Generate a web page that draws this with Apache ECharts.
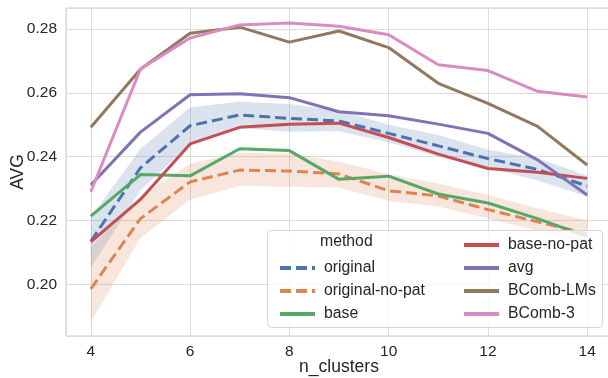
<!DOCTYPE html>
<html>
<head>
<meta charset="utf-8">
<script src="https://cdn.jsdelivr.net/npm/echarts@6/dist/echarts.min.js"></script>
<style>
  html, body { margin: 0; padding: 0; background: #fff; }
  #chart { width: 608px; height: 378px; }
</style>
</head>
<body>
<div id="chart"></div>
<script>
var nClusters = [4, 5, 6, 7, 8, 9, 10, 11, 12, 13, 14];

var original = [0.2135, 0.2365, 0.2497, 0.2531, 0.2520, 0.2512, 0.2473, 0.2434, 0.2394, 0.2360, 0.2308];
var originalLow = [0.2052, 0.2295, 0.2440, 0.2490, 0.2478, 0.2480, 0.2445, 0.2400, 0.2365, 0.2325, 0.2275];
var originalHigh = [0.2210, 0.2425, 0.2555, 0.2572, 0.2565, 0.2545, 0.2500, 0.2468, 0.2422, 0.2395, 0.2340];

var originalNoPat = [0.1986, 0.2206, 0.2321, 0.2358, 0.2355, 0.2346, 0.2293, 0.2277, 0.2234, 0.2196, 0.2158];
var originalNoPatLow = [0.1883, 0.2145, 0.2266, 0.2308, 0.2306, 0.2303, 0.2262, 0.2244, 0.2206, 0.2168, 0.2120];
var originalNoPatHigh = [0.2115, 0.2275, 0.2378, 0.2412, 0.2410, 0.2385, 0.2345, 0.2316, 0.2280, 0.2238, 0.2200];

var base = [0.2214, 0.2344, 0.2340, 0.2425, 0.2419, 0.2329, 0.2339, 0.2283, 0.2255, 0.2206, 0.2150];
var baseNoPat = [0.2133, 0.2266, 0.2440, 0.2492, 0.2502, 0.2505, 0.2460, 0.2408, 0.2363, 0.2351, 0.2332];
var avg = [0.2311, 0.2477, 0.2594, 0.2597, 0.2585, 0.2541, 0.2528, 0.2502, 0.2473, 0.2390, 0.2280];
var bcombLMs = [0.2492, 0.2674, 0.2787, 0.2806, 0.2759, 0.2794, 0.2742, 0.2630, 0.2567, 0.2495, 0.2374];
var bcomb3 = [0.2290, 0.2675, 0.2772, 0.2813, 0.2819, 0.2809, 0.2782, 0.2688, 0.2670, 0.2605, 0.2587];

var colors = {
  original: '#4c72b0', originalNoPat: '#dd8452', base: '#55a868', baseNoPat: '#c44e52',
  avg: '#8172b3', bcombLMs: '#937860', bcomb3: '#da8bc3'
};
var FONT = 'Liberation Sans, Arial, sans-serif';
var TXT = '#262626';

function pairs(ys) {
  return nClusters.map(function (x, i) { return [x, ys[i]]; });
}

function lineSeries(name, ys, color, dashed) {
  return {
    name: name, type: 'line', data: pairs(ys), symbol: 'none', z: 5,
    color: color,
    lineStyle: { color: color, width: 3, type: dashed ? [11, 5] : 'solid' }
  };
}

// confidence band: one polygon, upper edge left->right then lower edge right->left
function bandSeries(low, high, color) {
  return {
    type: 'custom', silent: true, z: 1,
    data: [[nClusters[0], low[0], high[0]]],
    renderItem: function (params, api) {
      var pts = [];
      nClusters.forEach(function (x, i) { pts.push(api.coord([x, high[i]])); });
      for (var i = nClusters.length - 1; i >= 0; i--) pts.push(api.coord([nClusters[i], low[i]]));
      return {
        type: 'polygon', shape: { points: pts },
        style: { fill: color, opacity: 0.2 }
      };
    }
  };
}

function isTick(v, step) {
  return Math.abs(v / step - Math.round(v / step)) < 1e-6;
}

var series = [
  bandSeries(originalLow, originalHigh, colors.original),
  bandSeries(originalNoPatLow, originalNoPatHigh, colors.originalNoPat),
  lineSeries('original', original, colors.original, true),
  lineSeries('original-no-pat', originalNoPat, colors.originalNoPat, true),
  lineSeries('base', base, colors.base, false),
  lineSeries('base-no-pat', baseNoPat, colors.baseNoPat, false),
  lineSeries('avg', avg, colors.avg, false),
  lineSeries('BComb-LMs', bcombLMs, colors.bcombLMs, false),
  lineSeries('BComb-3', bcomb3, colors.bcomb3, false)
];

var legendText = { fontFamily: FONT, fontSize: 15.8, color: TXT, padding: [0, 0, 0, 4] };

var option = {
  animation: false,
  backgroundColor: '#fff',
  grid: {
    left: 66, right: -4, top: 8, bottom: 42, outerBoundsMode: 'none',
    show: true, borderColor: '#cccccc', borderWidth: 1
  },
  xAxis: {
    type: 'value', min: 3.5, max: 14.5, splitNumber: 5,
    name: 'n_clusters', nameLocation: 'middle', nameGap: 22, nameMoveOverlap: false,
    nameTextStyle: { fontFamily: FONT, fontSize: 17.5, color: TXT },
    axisLine: { show: false }, axisTick: { show: false },
    axisLabel: {
      fontFamily: FONT, fontSize: 15.5, color: TXT, margin: 8,
      formatter: function (v) { return isTick(v, 1) ? String(v) : ''; }
    },
    splitLine: { lineStyle: { color: '#dcdcdc', width: 1 } }
  },
  yAxis: {
    type: 'value', min: 0.1838, max: 0.2866, splitNumber: 5,
    name: 'AVG', nameLocation: 'middle', nameGap: 39, nameMoveOverlap: false,
    nameTextStyle: { fontFamily: FONT, fontSize: 17.5, color: TXT },
    axisLine: { show: false }, axisTick: { show: false },
    axisLabel: {
      fontFamily: FONT, fontSize: 15.5, color: TXT, margin: 9,
      formatter: function (v) { return isTick(v, 0.02) ? v.toFixed(2) : ''; }
    },
    splitLine: { lineStyle: { color: '#dcdcdc', width: 1 } }
  },
  legend: [
    {
      data: ['original', 'original-no-pat', 'base'], orient: 'vertical',
      left: 273, top: 255, itemWidth: 35, itemHeight: 4, itemGap: 7, z: 110,
      itemStyle: { opacity: 0 }, lineStyle: { width: 4 }, textStyle: legendText
    },
    {
      data: ['base-no-pat', 'avg', 'BComb-LMs', 'BComb-3'], orient: 'vertical',
      left: 457, top: 232, itemWidth: 35, itemHeight: 4, itemGap: 7, z: 110,
      itemStyle: { opacity: 0 }, lineStyle: { width: 4 }, textStyle: legendText
    }
  ],
  graphic: [
    { type: 'rect', z: 100, shape: { x: 267.5, y: 230.5, width: 335, height: 97, r: 4 },
      style: { fill: 'rgba(255,255,255,0.8)', stroke: '#d6d6d6', lineWidth: 1 } },
    { type: 'text', z: 101, left: 320, top: 234,
      style: { text: 'method', fontFamily: FONT, fontSize: 15.8, fill: TXT } }
  ],
  series: series
};

var chart = echarts.init(document.getElementById('chart'));
chart.setOption(option);
</script>
</body>
</html>
